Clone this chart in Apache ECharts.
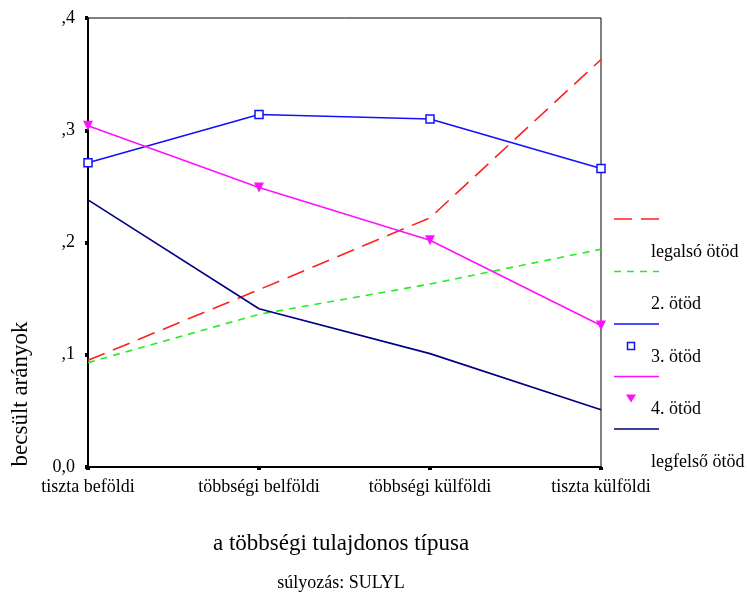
<!DOCTYPE html>
<html>
<head>
<meta charset="utf-8">
<script src="https://cdn.jsdelivr.net/npm/echarts@6/dist/echarts.min.js"></script>
<style>html,body{margin:0;padding:0;background:#fff}#c{width:747px;height:598px}</style>
</head>
<body>
<div id="c"></div>
<script>
var categories = ['tiszta beföldi', 'többségi belföldi', 'többségi külföldi', 'tiszta külföldi'];
var yTickLabels = ['0,0', ',1', ',2', ',3', ',4'];
var seriesNames = ['legalsó ötöd', '2. ötöd', '3. ötöd', '4. ötöd', 'legfelső ötöd'];
var legalso = [0.095, 0.158, 0.222, 0.363];
var otod2 = [0.093, 0.136, 0.163, 0.194];
var otod3 = [0.271, 0.314, 0.310, 0.266];
var otod4 = [0.304, 0.249, 0.202, 0.126];
var legfelso = [0.238, 0.141, 0.101, 0.051];

var FONT = '"Liberation Serif", "Times New Roman", serif';
var styles = [
  {color: '#ff2020', type: [18, 9], symbol: 'none'},
  {color: '#22ee22', type: [7, 6], symbol: 'none'},
  {color: '#1010ff', type: 'solid', symbol: 'rect'},
  {color: '#ff10ff', type: 'solid', symbol: 'triangle'},
  {color: '#000080', type: 'solid', symbol: 'none'}
];
var values = [legalso, otod2, otod3, otod4, legfelso];

var series = values.map(function (d, i) {
  var s = styles[i];
  var o = {
    name: seriesNames[i], type: 'line', data: d, animation: false,
    lineStyle: {color: s.color, width: 1.6, type: s.type},
    itemStyle: {color: s.color},
    showSymbol: s.symbol !== 'none', symbol: s.symbol === 'none' ? 'none' : s.symbol,
    z: 3
  };
  if (s.symbol === 'rect') {
    o.symbolSize = 8;
    o.itemStyle = {color: '#fff', borderColor: s.color, borderWidth: 1.5};
  }
  if (s.symbol === 'triangle') {
    o.symbolSize = 10;
    o.symbolRotate = 180;
  }
  return o;
});

// legend (SPSS-style: sample above label)
var legendGraphics = [];
var ly = 219, step = 52.5;
seriesNames.forEach(function (n, i) {
  var s = styles[i];
  var base = ly + i * step;
  legendGraphics.push({type: 'line', shape: {x1: 614, y1: base, x2: 659, y2: base},
    style: {stroke: s.color, lineWidth: 1.6, lineDash: s.type === 'solid' ? null : s.type}});
  if (s.symbol === 'rect') {
    legendGraphics.push({type: 'rect', shape: {x: 627.5, y: base + 18.5, width: 7, height: 7},
      style: {fill: '#fff', stroke: s.color, lineWidth: 1.5}});
  }
  if (s.symbol === 'triangle') {
    legendGraphics.push({type: 'polygon', shape: {points: [[626, base + 18], [636, base + 18], [631, base + 26]]},
      style: {fill: s.color}});
  }
  legendGraphics.push({type: 'text', x: 651, y: base + 33, style: {text: n, font: '18px ' + FONT, fill: '#000', textVerticalAlign: 'middle', textAlign: 'left'}});
});

legendGraphics.push({type: 'text', x: 21, y: 394, rotation: Math.PI / 2,
  style: {text: 'becsült arányok', font: '23px ' + FONT, fill: '#000', textAlign: 'center', textVerticalAlign: 'middle'}});
legendGraphics.push({type: 'text', x: 341, y: 544,
  style: {text: 'a többségi tulajdonos típusa', font: '23px ' + FONT, fill: '#000', textAlign: 'center', textVerticalAlign: 'middle'}});
legendGraphics.push({type: 'text', x: 341, y: 583,
  style: {text: 'súlyozás: SULYL', font: '18px ' + FONT, fill: '#000', textAlign: 'center', textVerticalAlign: 'middle'}});

var chart = echarts.init(document.getElementById('c'), null, {renderer: 'canvas'});
chart.setOption({
  backgroundColor: '#fff',
  animation: false,
  grid: {left: 88, top: 18, right: 146, bottom: 131, show: true, borderColor: '#000', borderWidth: 1, backgroundColor: 'transparent'},
  xAxis: {
    type: 'category', data: categories, boundaryGap: false,
    axisLine: {lineStyle: {color: '#000', width: 2}},
    axisTick: {show: true, length: 3, lineStyle: {color: '#000', width: 4}, alignWithLabel: true},
    axisLabel: {color: '#000', fontFamily: FONT, fontSize: 18, margin: 11, interval: 0},
    splitLine: {show: false}
  },
  yAxis: {
    type: 'value', min: 0, max: 0.4, interval: 0.1,
    axisLine: {show: true, lineStyle: {color: '#000', width: 2}},
    axisTick: {show: true, length: 3, lineStyle: {color: '#000', width: 4}},
    axisLabel: {color: '#000', fontFamily: FONT, fontSize: 18, margin: 13,
      formatter: function (v) { return yTickLabels[Math.round(v * 10)]; }},
    splitLine: {show: false}
  },
  series: series,
  graphic: legendGraphics
});
</script>
</body>
</html>
